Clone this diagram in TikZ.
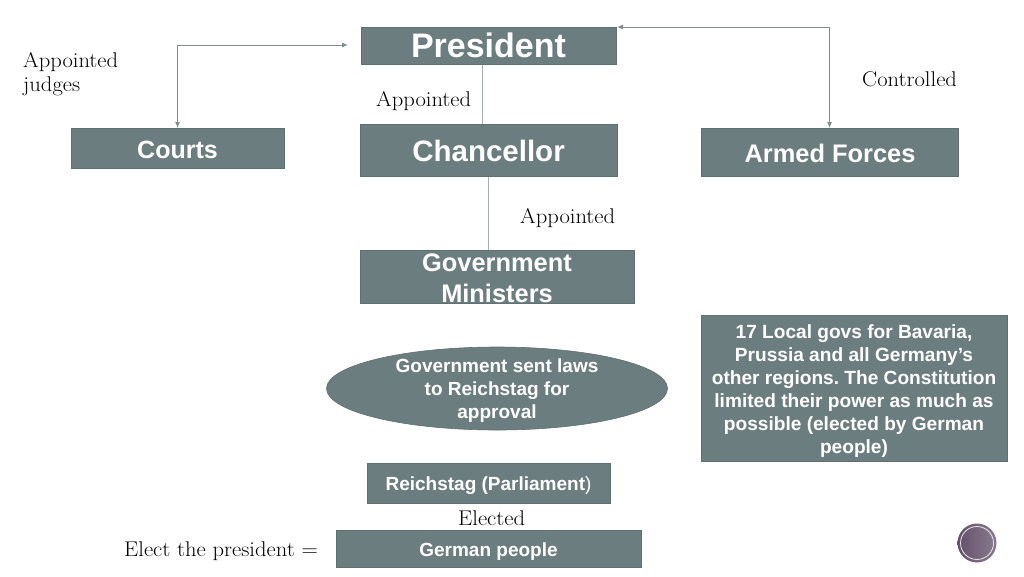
\documentclass[tikz,border=0pt]{standalone}
\usepackage{fontspec}
\setsansfont{Liberation Sans}
\newfontfamily\labfont[FakeStretch=1.06]{Latin Modern Roman}
\usetikzlibrary{arrows.meta,shapes.geometric}
\definecolor{boxfill}{HTML}{6B7D7E}
\definecolor{boxline}{HTML}{5F7071}
\definecolor{linkc}{HTML}{7F8C8C}
\definecolor{plum}{HTML}{64506A}
\newcommand{\bfs}[2]{\fontsize{#1}{#2}\selectfont\sffamily\bfseries\frenchspacing}
\tikzset{
  x=1pt,y=-1pt,
  gbox/.style={draw=boxline,line width=0.6pt,fill=boxfill,text=white,align=center,inner sep=0pt},
  gtext/.style={text=white,align=center,inner sep=0pt},
  lab/.style={font=\labfont\fontsize{21.3}{23.5}\selectfont,text=black,align=left,inner sep=0pt},
  plainlink/.style={draw=linkc!70!white,line width=1pt},
  arrowlink/.style={draw=linkc,line width=1pt,{Latex[length=6pt,width=5pt]}-{Latex[length=6pt,width=5pt]}}
}
\begin{document}
\begin{tikzpicture}
\useasboundingbox (0,0) rectangle (1024,576);
\fill[white] (0,0) rectangle (1024,576);
\newcommand{\gb}[5]{\node[gbox,minimum width=#3pt,minimum height=#4pt,anchor=north west] (#5) at (#1,#2) {};}
\gb{360.5}{26.5}{255}{37.5}{pres}
\gb{359.5}{123.5}{257.5}{52.5}{chan}
\gb{70.5}{128}{213.5}{40}{courts}
\gb{700.5}{128}{257.5}{48}{armed}
\gb{359.5}{250}{274.5}{53}{gov}
\gb{700.5}{315}{306.5}{146}{local}
\gb{366.5}{462.5}{243.5}{40}{reich}
\gb{335.5}{530}{305.5}{37}{people}
\node[ellipse,gbox,minimum width=341pt,minimum height=83pt] (law) at (497,388.5) {};
\node[gtext,font=\bfs{34}{36}] (ptx) at (488.5,45.5) {President};
\node[gtext,font=\bfs{29.5}{32}] (ctx) at (488.5,151) {Chancellor};
\node[gtext,font=\bfs{25}{30}] (ctsx) at (177.5,150) {Courts};
\node[gtext,font=\bfs{25.4}{30}] (atx) at (830,153) {Armed Forces};
\node[gtext,font=\bfs{25.4}{31}] (gtx) at (497,278) {Government\\Ministers};
\node[gtext,font=\bfs{19.1}{23}] (ltx) at (854,391) {17 Local govs for Bavaria,\\Prussia and all Germany’s\\other regions. The Constitution\\limited their power as much as\\possible (elected by German\\people)};
\node[gtext,font=\bfs{19}{23}] (etx) at (497,391) {Government sent laws\\to Reichstag for\\approval};
\node[gtext,font=\bfs{19}{23}] (rtx) at (488.5,486) {Reichstag (Parliament\textmd{)}};
\node[gtext,font=\bfs{19}{23}] (gptx) at (488.5,551.5) {German people};
\coordinate (pl) at (348,45);
\coordinate (pr) at (617,27);
\draw[plainlink] (482.5,64.5) -- (482.5,123.5);
\draw[plainlink] (488.5,176.5) -- (488.5,250);
\draw[arrowlink] (pl) -| (courts.north);
\draw[arrowlink] (pr) -| (armed.north);
\node[lab,anchor=base west] (t1) at (23,67.5) {Appointed};
\node[lab,anchor=base west] (t1b) at (23,91) {judges};
\node[lab,anchor=base west] (t2) at (376,106) {Appointed};
\node[lab,anchor=base west] (t3) at (520,223) {Appointed};
\node[lab,anchor=base west] (t4) at (862,86) {Controlled};
\node[lab,anchor=base west] (t5) at (458,525) {Elected};
\node[lab,anchor=base west] (t6) at (124,556) {Elect the president =};
\node[circle,left color=plum,right color=plum!75!white,draw=none,minimum size=39pt,inner sep=0pt] (badge) at (977,543) {};
\draw[white!85!plum,line width=0.8pt] (badge) circle (16.5pt);
\end{tikzpicture}
\end{document}
